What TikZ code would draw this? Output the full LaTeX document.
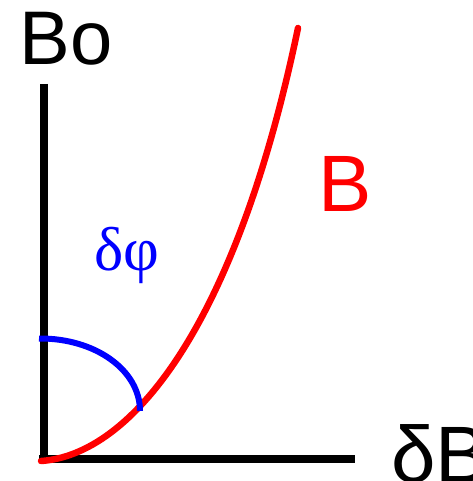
\documentclass[tikz,border=0pt]{standalone}
\usepackage{fontspec}
\setmainfont{Liberation Sans}
\newfontfamily\greekserif{Liberation Serif}
\begin{document}
\begin{tikzpicture}[x=1pt,y=-1pt,
  axis/.style={line width=8pt,black},
  curveB/.style={line width=6.5pt,red,line cap=round},
  arcphi/.style={line width=6pt,blue},
  lbl/.style={inner sep=0pt,outer sep=0pt,anchor=base west}]
\useasboundingbox (0,0) rectangle (472,481);
% axes
\coordinate (top) at (43.5,84);
\coordinate (axbot) at (43.5,463);
\coordinate (axleft) at (39,459);
\coordinate (right) at (355,459);
\draw[axis] (top) -- (axbot);
\draw[axis] (axleft) -- (right);
% curve B
\coordinate (c0) at (41,461);
\coordinate (c1) at (298,28);
\draw[curveB] (c0) .. controls (130,455) and (235,330) .. (c1);
% angle arc
\coordinate (a0) at (39,338.5);
\coordinate (a1) at (140,411);
\draw[arcphi] (a0) .. controls (95,338) and (140,370) .. (a1);
% labels
\node[lbl,font=\fontsize{76}{76}\selectfont] (Bo) at (19.5,65) {Bo};
\node[lbl,font=\fontsize{80}{80}\selectfont,text=red] (B) at (318,211) {B};
\node[lbl,font=\fontsize{62}{62}\selectfont\greekserif,text=blue] (dphi) at (94,270) {δφ};
\node[lbl,font=\fontsize{80}{80}\selectfont] (dB) at (391,482) {δB};
\end{tikzpicture}
\end{document}
